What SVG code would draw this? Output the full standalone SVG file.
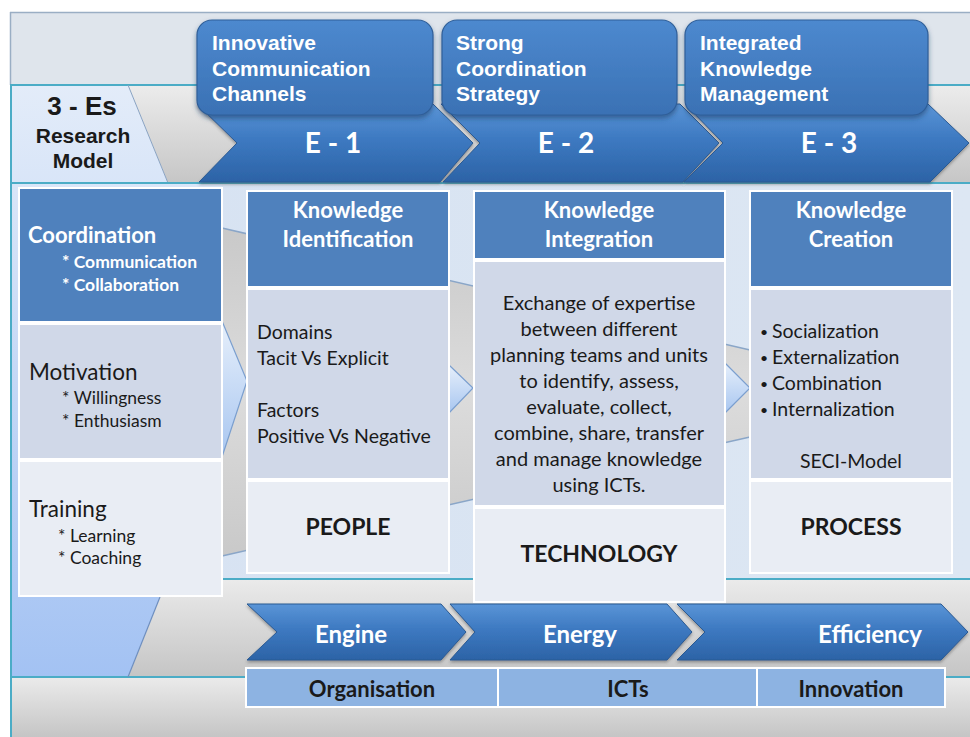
<svg xmlns="http://www.w3.org/2000/svg" width="970" height="737" viewBox="0 0 970 737">
<defs>
<linearGradient id="gTopGrey" x1="0" y1="0" x2="0" y2="1"><stop offset="0" stop-color="#ececec"/><stop offset="1" stop-color="#c6c6c6"/></linearGradient>
<linearGradient id="gLeft" x1="0" y1="0" x2="0" y2="1"><stop offset="0" stop-color="#e3ecf9"/><stop offset="0.5" stop-color="#c4d8f6"/><stop offset="1" stop-color="#a3c2f3"/></linearGradient>
<linearGradient id="gMid" x1="0" y1="0" x2="1" y2="0"><stop offset="0" stop-color="#d6e2f2"/><stop offset="1" stop-color="#dde7f3"/></linearGradient>
<linearGradient id="gGrey" x1="0" y1="0" x2="0" y2="1"><stop offset="0" stop-color="#ebebeb"/><stop offset="1" stop-color="#c5c5c5"/></linearGradient>
<linearGradient id="gFunnel" x1="0" y1="0" x2="0" y2="1"><stop offset="0" stop-color="#c9c9c9"/><stop offset="0.5" stop-color="#dcdcdc"/><stop offset="1" stop-color="#c9c9c9"/></linearGradient>
<linearGradient id="gTip" x1="0" y1="0" x2="0" y2="1"><stop offset="0" stop-color="#e6effb"/><stop offset="1" stop-color="#a8c6f0"/></linearGradient>
<linearGradient id="gBox" x1="0" y1="0" x2="0" y2="1"><stop offset="0" stop-color="#4d89cf"/><stop offset="1" stop-color="#3a71b4"/></linearGradient>
<linearGradient id="gChev" x1="0" y1="0" x2="0" y2="1"><stop offset="0" stop-color="#5a95d7"/><stop offset="0.45" stop-color="#3d79c1"/><stop offset="1" stop-color="#2c63a6"/></linearGradient>
<filter id="sh" x="-10%" y="-10%" width="120%" height="130%"><feDropShadow dx="0" dy="3" stdDeviation="2.5" flood-color="#1f3d66" flood-opacity="0.55"/></filter>
<filter id="sh2" x="-10%" y="-10%" width="120%" height="130%"><feDropShadow dx="0" dy="2" stdDeviation="1.5" flood-color="#444" flood-opacity="0.45"/></filter>
</defs>
<style>
.ar{font-family:"Liberation Sans",Arial,sans-serif;font-weight:bold}
.ca{font-family:Lato,"Open Sans",sans-serif}
.w{fill:#ffffff}
.k{fill:#1a1a1a}
.hdr{fill:#4f81bd;stroke:#ffffff;stroke-width:2}
.body{fill:#d0d8e8;stroke:#ffffff;stroke-width:2}
.foot{fill:#e9edf4;stroke:#ffffff;stroke-width:2}
.teal{stroke:#4bacc6;stroke-width:2;fill:none}
.box{fill:url(#gBox);stroke:#2f5f99;stroke-width:1.2}
.chev{fill:url(#gChev);stroke:#2a5a93;stroke-width:1}
.tip{fill:url(#gTip);stroke:#7b9fcf;stroke-width:1.2}
.cell{fill:#8db3e2;stroke:#ffffff;stroke-width:2}
</style>

<!-- background -->
<g id="background">
<rect x="0" y="0" width="970" height="737" fill="#ffffff"/>
<rect x="10" y="12" width="960" height="73" fill="#dfe5ec"/>
<polygon points="128,85 970,85 970,183 168,183" fill="url(#gTopGrey)"/>
<rect x="10" y="183" width="960" height="395" fill="url(#gMid)"/>
<polygon points="222,578 970,578 970,677 128,677 160,597 222,597" fill="url(#gGrey)"/>
<polygon points="10,85 128,85 168,183 222,183 222,597 160,597 128,677 10,677" fill="url(#gLeft)"/>
<rect x="10" y="677" width="960" height="60" fill="url(#gGrey)"/>
<line x1="10" y1="12.5" x2="970" y2="12.5" stroke="#9aaec4" stroke-width="1.5"/>
<line x1="10.5" y1="12" x2="10.5" y2="85" stroke="#9aaec4" stroke-width="1.5"/>
<line x1="10" y1="85" x2="970" y2="85" class="teal"/>
<line x1="128" y1="85" x2="168" y2="183" stroke="#8aa3c2" stroke-width="1"/>
<line x1="10" y1="183" x2="970" y2="183" class="teal"/>
<line x1="222" y1="579" x2="970" y2="579" class="teal"/>
<line x1="10" y1="677" x2="970" y2="677" class="teal"/>
<line x1="160" y1="597" x2="128" y2="677" stroke="#6f8fbf" stroke-width="1.2"/>
<line x1="11" y1="85" x2="11" y2="737" class="teal"/>
<!-- funnel -->
<polygon points="222,228 750,350 750,437 222,556" fill="url(#gFunnel)"/>
<line x1="222" y1="228" x2="750" y2="350" stroke="#8aa6c8" stroke-width="1.5"/>
<line x1="222" y1="556" x2="750" y2="437" stroke="#8aa6c8" stroke-width="1.5"/>
<polygon class="tip" points="222,321 247,381 222,457"/>
<polygon class="tip" points="449,365 473,388 449,413"/>
<polygon class="tip" points="725,363 750,388 725,413"/>
</g>

<g id="title-3es">
<text class="ar k" x="82" y="115" font-size="26" text-anchor="middle">3 - Es</text>
<text class="ar k" x="83" y="143" font-size="21" text-anchor="middle">Research</text>
<text class="ar k" x="83" y="168" font-size="21" text-anchor="middle">Model</text>
</g>

<!-- top chevrons -->
<g id="chevron-e1">
<polygon class="chev" points="197,104 433,104 473,143 440,182 199,182 237,143" filter="url(#sh2)"/>
<text class="ca w" x="333" y="153" font-size="28" font-weight="bold" text-anchor="middle">E - 1</text>
</g>
<g id="chevron-e2">
<polygon class="chev" points="441,104 680,104 719,143 683,182 443,182 480,143" filter="url(#sh2)"/>
<text class="ca w" x="566" y="153" font-size="28" font-weight="bold" text-anchor="middle">E - 2</text>
</g>
<g id="chevron-e3">
<polygon class="chev" points="685,104 928,104 969,143 930,182 684,182 723,143" filter="url(#sh2)"/>
<text class="ca w" x="829" y="153" font-size="28" font-weight="bold" text-anchor="middle">E - 3</text>
</g>

<g id="box-innovative">
<rect class="box" x="197" y="20" width="236" height="95" rx="15" filter="url(#sh)"/>
<text class="ar w" x="212" y="50" font-size="21">Innovative</text>
<text class="ar w" x="212" y="76" font-size="21">Communication</text>
<text class="ar w" x="212" y="101" font-size="21">Channels</text>
</g>
<g id="box-strong">
<rect class="box" x="442" y="20" width="235" height="95" rx="15" filter="url(#sh)"/>
<text class="ar w" x="456" y="50" font-size="21">Strong</text>
<text class="ar w" x="456" y="76" font-size="21">Coordination</text>
<text class="ar w" x="456" y="101" font-size="21">Strategy</text>
</g>
<g id="box-integrated">
<rect class="box" x="685" y="20" width="243" height="95" rx="15" filter="url(#sh)"/>
<text class="ar w" x="700" y="50" font-size="21">Integrated</text>
<text class="ar w" x="700" y="76" font-size="21">Knowledge</text>
<text class="ar w" x="700" y="101" font-size="21">Management</text>
</g>

<!-- left column -->
<g id="coordination">
<rect class="hdr" x="19" y="188" width="203" height="134"/>
<text class="ca w" x="28" y="243" font-size="22" font-weight="bold">Coordination</text>
<text class="ca w" x="62" y="268" font-size="17.5" font-weight="bold">* Communication</text>
<text class="ca w" x="62" y="291" font-size="17.5" font-weight="bold">* Collaboration</text>
</g>
<g id="motivation">
<rect class="body" x="19" y="324" width="203" height="135"/>
<text class="ca k" x="29" y="380" font-size="22.5">Motivation</text>
<text class="ca k" x="62" y="404" font-size="17.5">* Willingness</text>
<text class="ca k" x="62" y="427" font-size="17.5">* Enthusiasm</text>
</g>
<g id="training">
<rect class="foot" x="19" y="461" width="203" height="135"/>
<text class="ca k" x="29" y="517" font-size="22.5">Training</text>
<text class="ca k" x="58" y="542" font-size="17.5">* Learning</text>
<text class="ca k" x="58" y="564" font-size="17.5">* Coaching</text>
</g>

<!-- column 1 -->
<g id="knowledge-identification">
<rect class="hdr" x="247" y="191" width="202" height="96"/>
<rect class="body" x="247" y="289" width="202" height="190"/>
<rect class="foot" x="247" y="481" width="202" height="92"/>
<text class="ca w" x="348" y="218" font-size="22" font-weight="bold" text-anchor="middle">Knowledge</text>
<text class="ca w" x="348" y="247" font-size="22" font-weight="bold" text-anchor="middle">Identification</text>
<text class="ca k" x="257" y="339" font-size="19.5">Domains</text>
<text class="ca k" x="257" y="365" font-size="19.5">Tacit Vs Explicit</text>
<text class="ca k" x="257" y="417" font-size="19.5">Factors</text>
<text class="ca k" x="257" y="443" font-size="19.5">Positive Vs Negative</text>
<text class="ca k" x="348" y="535" font-size="23" font-weight="bold" text-anchor="middle">PEOPLE</text>
</g>

<!-- column 2 -->
<g id="knowledge-integration">
<rect class="hdr" x="474" y="191" width="251" height="68"/>
<rect class="body" x="474" y="261" width="251" height="245"/>
<rect class="foot" x="474" y="508" width="251" height="94"/>
<text class="ca w" x="599" y="218" font-size="22" font-weight="bold" text-anchor="middle">Knowledge</text>
<text class="ca w" x="599" y="247" font-size="22" font-weight="bold" text-anchor="middle">Integration</text>
<g class="ca k" font-size="20" text-anchor="middle">
<text x="599" y="310">Exchange of expertise</text>
<text x="599" y="336">between different</text>
<text x="599" y="362">planning teams and units</text>
<text x="599" y="388">to identify, assess,</text>
<text x="599" y="414">evaluate, collect,</text>
<text x="599" y="440">combine, share, transfer</text>
<text x="599" y="466">and manage knowledge</text>
<text x="599" y="492">using ICTs.</text>
</g>
<text class="ca k" x="599" y="562" font-size="23" font-weight="bold" text-anchor="middle">TECHNOLOGY</text>
</g>

<!-- column 3 -->
<g id="knowledge-creation">
<rect class="hdr" x="750" y="191" width="202" height="96"/>
<rect class="body" x="750" y="289" width="202" height="190"/>
<rect class="foot" x="750" y="481" width="202" height="92"/>
<text class="ca w" x="851" y="218" font-size="22" font-weight="bold" text-anchor="middle">Knowledge</text>
<text class="ca w" x="851" y="247" font-size="22" font-weight="bold" text-anchor="middle">Creation</text>
<g class="ca k" font-size="19.5">
<text x="760" y="337" font-size="14">•</text><text x="772" y="338">Socialization</text>
<text x="760" y="363" font-size="14">•</text><text x="772" y="364">Externalization</text>
<text x="760" y="389" font-size="14">•</text><text x="772" y="390">Combination</text>
<text x="760" y="415" font-size="14">•</text><text x="772" y="416">Internalization</text>
</g>
<text class="ca k" x="851" y="468" font-size="19.5" text-anchor="middle">SECI-Model</text>
<text class="ca k" x="851" y="535" font-size="23" font-weight="bold" text-anchor="middle">PROCESS</text>
</g>

<!-- bottom chevrons -->
<g id="chevron-engine">
<polygon class="chev" points="247,604 441,604 466,632 441,660 247,660 277,632" filter="url(#sh2)"/>
<text class="ca w" x="351" y="643" font-size="24" font-weight="bold" text-anchor="middle">Engine</text>
</g>
<g id="chevron-energy">
<polygon class="chev" points="450,604 667,604 692,632 667,660 450,660 475,632" filter="url(#sh2)"/>
<text class="ca w" x="580" y="643" font-size="24" font-weight="bold" text-anchor="middle">Energy</text>
</g>
<g id="chevron-efficiency">
<polygon class="chev" points="677,604 941,604 968,632 941,660 677,660 705,632" filter="url(#sh2)"/>
<text class="ca w" x="870" y="643" font-size="24" font-weight="bold" text-anchor="middle">Efficiency</text>
</g>

<!-- bottom table -->
<g id="cell-organisation">
<rect class="cell" x="246" y="668" width="252" height="39"/>
<text class="ca k" x="372" y="697" font-size="22" font-weight="bold" text-anchor="middle">Organisation</text>
</g>
<g id="cell-icts">
<rect class="cell" x="498" y="668" width="259" height="39"/>
<text class="ca k" x="628" y="697" font-size="22" font-weight="bold" text-anchor="middle">ICTs</text>
</g>
<g id="cell-innovation">
<rect class="cell" x="757" y="668" width="188" height="39"/>
<text class="ca k" x="851" y="697" font-size="22" font-weight="bold" text-anchor="middle">Innovation</text>
</g>
<g id="connectors"></g>
</svg>
